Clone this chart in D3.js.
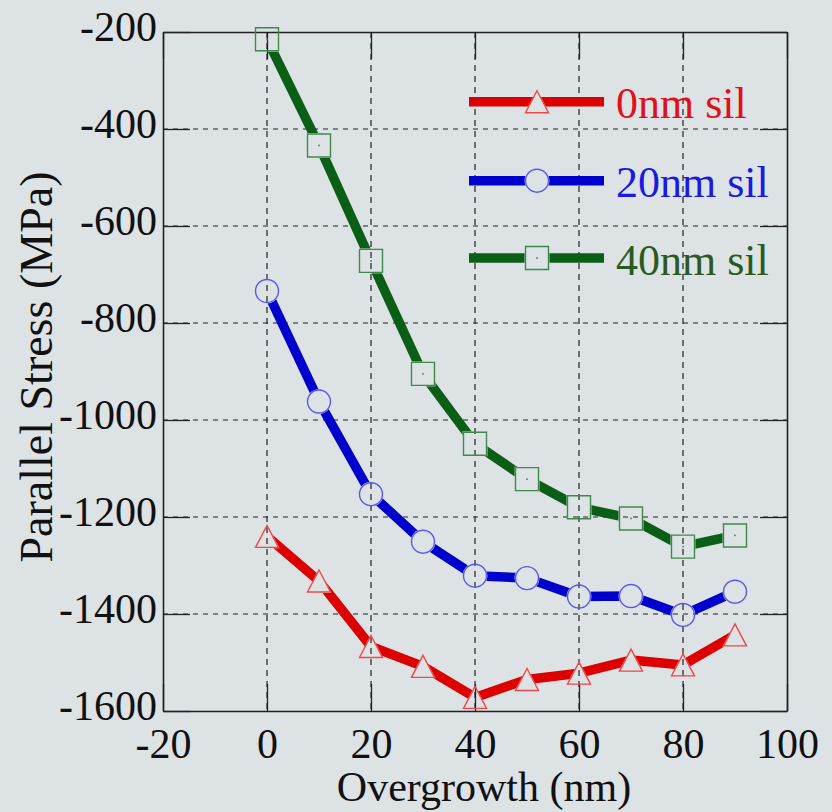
<!DOCTYPE html>
<html><head><meta charset="utf-8">
<script src="https://cdn.jsdelivr.net/npm/d3@7"></script>
<style>html,body{margin:0;padding:0;background:#dde2e5;}svg{display:block;}</style>
</head><body>
<svg id="c" width="832" height="812"></svg>
<script>
const xValues = [0, 10, 20, 30, 40, 50, 60, 70, 80, 90];
const sil0 = [-1240, -1332, -1467, -1508, -1572, -1535, -1522, -1495, -1505, -1443];
const sil20 = [-734, -962, -1153, -1251, -1321, -1326, -1364, -1363, -1402, -1354];
const sil40 = [-215, -434, -672, -905, -1049, -1122, -1180, -1203, -1261, -1238];
const seriesNames = ["0nm sil", "20nm sil", "40nm sil"];
const xTicks = [-20, 0, 20, 40, 60, 80, 100];
const yTicks = [-200, -400, -600, -800, -1000, -1200, -1400, -1600];
const xTitle = "Overgrowth (nm)";
const yTitle = "Parallel Stress (MPa)";

const svg = d3.select("#c");
const L = 163, R = 787, T = 32, B = 711;
const x = d3.scaleLinear().domain([-20, 100]).range([L, R]);
const y = d3.scaleLinear().domain([-1600, -200]).range([B, T]);
const font = "'Liberation Serif','Times New Roman',serif";
const fmt = d => String(d);

svg.append("rect").attr("width", 832).attr("height", 812).attr("fill", "#dde2e5");

// grid
const g = svg.append("g");
g.selectAll("line.hg").data(yTicks.filter(d => d > -1600 && d < -200)).enter().append("line")
  .attr("x1", L).attr("x2", R).attr("y1", d => y(d)).attr("y2", d => y(d))
  .attr("stroke", "#222").attr("stroke-width", 1.2).attr("stroke-dasharray", "5,5");
g.selectAll("line.vg").data(xTicks.filter(d => d > -20 && d < 100)).enter().append("line")
  .attr("y1", T).attr("y2", B).attr("x1", d => x(d)).attr("x2", d => x(d))
  .attr("stroke", "#222").attr("stroke-width", 1.2).attr("stroke-dasharray", "6,5");

// axes with inward ticks on all sides
const tl = 27;
const axB = d3.axisBottom(x).tickValues(xTicks).tickSizeInner(-tl).tickSizeOuter(0).tickFormat(fmt).tickPadding(17);
const axL = d3.axisLeft(y).tickValues(yTicks).tickSizeInner(-tl).tickSizeOuter(0).tickFormat(fmt).tickPadding(6);
const axT = d3.axisTop(x).tickValues(xTicks).tickSizeInner(-tl).tickSizeOuter(0).tickFormat("");
const axR = d3.axisRight(y).tickValues(yTicks).tickSizeInner(-tl).tickSizeOuter(0).tickFormat("");
function style(sel) {
  sel.select(".domain").attr("stroke", "#222").attr("stroke-width", 1.6);
  sel.selectAll(".tick line").attr("stroke", "#222").attr("stroke-width", 1.3);
  sel.selectAll(".tick text").attr("font-family", font).attr("font-size", 42).attr("fill", "#111");
}
svg.append("g").attr("transform", `translate(0,${B})`).call(axB).call(style)
  .selectAll(".tick text").attr("dy", "0.71em");
svg.append("g").attr("transform", `translate(${L},0)`).call(axL).call(style)
  .selectAll(".tick text").attr("dy", "0.2em");
svg.append("g").attr("transform", `translate(0,${T})`).call(axT).call(style);
svg.append("g").attr("transform", `translate(${R},0)`).call(axR).call(style);

// series
const series = [
  {name: seriesNames[0], vals: sil0, line: "#dd0000", mk: "#ee4848", txt: "#e0101a", shape: "tri", ly: 101.7},
  {name: seriesNames[1], vals: sil20, line: "#0000cc", mk: "#5858ee", txt: "#1a1ae0", shape: "circ", ly: 180.7},
  {name: seriesNames[2], vals: sil40, line: "#0b5e16", mk: "#3f8a4a", txt: "#2a5a20", shape: "sq", ly: 258}
];

function shapePath(shape, s) {
  if (shape === "tri") return `M0,${-11 * s}L${11.5 * s},${11 * s}L${-11.5 * s},${11 * s}Z`;
  if (shape === "sq") return `M${-11.5 * s},${-11.5 * s}h${23 * s}v${23 * s}h${-23 * s}Z`;
  const r = 11.5 * s;
  return `M${r},0A${r},${r} 0 1,1 ${-r},0A${r},${r} 0 1,1 ${r},0Z`;
}

const defs = svg.append("defs");
const mask = defs.append("mask").attr("id", "mk").attr("maskUnits", "userSpaceOnUse")
  .attr("x", 0).attr("y", 0).attr("width", 832).attr("height", 812);
mask.append("rect").attr("width", 832).attr("height", 812).attr("fill", "white");

const legX1 = 469, legX2 = 604, legMx = 537;
series.forEach(s => {
  xValues.forEach((xv, i) => {
    mask.append("path").attr("d", shapePath(s.shape, 1.08))
      .attr("transform", `translate(${x(xv)},${y(s.vals[i])})`).attr("fill", "black");
  });
  mask.append("path").attr("d", shapePath(s.shape, 1.08))
    .attr("transform", `translate(${legMx},${s.ly})`).attr("fill", "black");
});

const lineGen = d3.line().x(d => x(d[0])).y(d => y(d[1]));
const lg = svg.append("g").attr("mask", "url(#mk)");
series.forEach(s => {
  lg.append("path").datum(xValues.map((xv, i) => [xv, s.vals[i]]))
    .attr("d", lineGen).attr("fill", "none").attr("stroke", s.line)
    .attr("stroke-width", 9.5).attr("stroke-linejoin", "round");
  lg.append("line").attr("x1", legX1).attr("x2", legX2).attr("y1", s.ly).attr("y2", s.ly)
    .attr("stroke", s.line).attr("stroke-width", 9.5);
});

series.forEach(s => {
  const pts = xValues.map((xv, i) => [x(xv), y(s.vals[i])]).concat([[legMx, s.ly]]);
  pts.forEach(p => {
    svg.append("path").attr("d", shapePath(s.shape, 1)).attr("transform", `translate(${p[0]},${p[1]})`)
      .attr("fill", "none").attr("stroke", s.mk).attr("stroke-width", 1.4);
    if (s.shape === "sq") svg.append("circle").attr("cx", p[0]).attr("cy", p[1]).attr("r", 0.9).attr("fill", s.mk);
  });
  svg.append("text").attr("x", 616).attr("y", s.ly + 16.5).text(s.name)
    .attr("font-family", font).attr("font-size", 44).attr("fill", s.txt);
});

// titles
svg.append("text").attr("x", 484).attr("y", 801).attr("text-anchor", "middle")
  .attr("font-family", font).attr("font-size", 42).attr("fill", "#111").text(xTitle);
svg.append("text").attr("transform", "translate(52,367) rotate(-90)").attr("text-anchor", "middle")
  .attr("font-family", font).attr("font-size", 46).attr("fill", "#111").text(yTitle);
</script>
</body></html>
